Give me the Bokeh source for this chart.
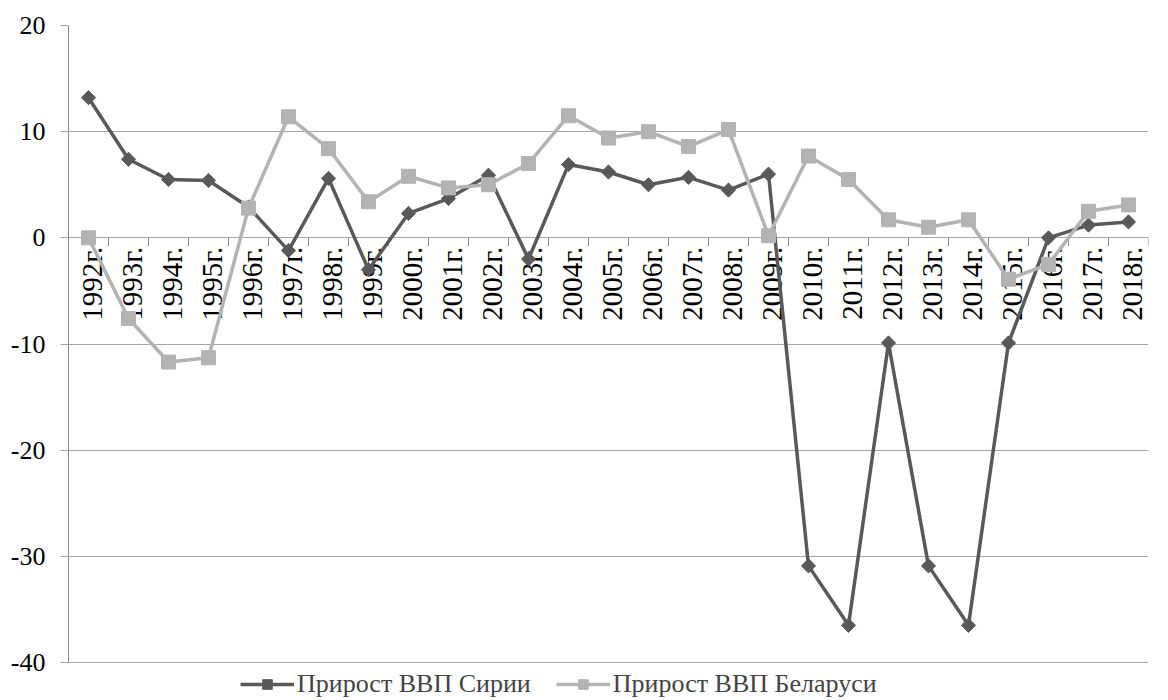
import math
from bokeh.plotting import figure
from bokeh.models import (FactorRange, Range1d, FixedTicker, Legend, LegendItem,
                          ColumnDataSource)
from bokeh.transform import dodge
from bokeh.core.properties import value
from bokeh.embed import file_html
from bokeh.resources import INLINE

years = ["1992г.", "1993г.", "1994г.", "1995г.", "1996г.", "1997г.", "1998г.",
         "1999г.", "2000г.", "2001г.", "2002г.", "2003г.", "2004г.", "2005г.",
         "2006г.", "2007г.", "2008г.", "2009г.", "2010г.", "2011г.", "2012г.",
         "2013г.", "2014г.", "2015г.", "2016г.", "2017г.", "2018г."]
syria = [13.2, 7.4, 5.5, 5.4, 2.9, -1.2, 5.6, -3.0, 2.3, 3.7, 5.9, -2.0, 6.9, 6.2,
         5.0, 5.7, 4.5, 6.0, -30.9, -36.5, -9.9, -30.9, -36.5, -9.9, 0.0, 1.2, 1.5]
belarus = [0.0, -7.6, -11.7, -11.3, 2.8, 11.4, 8.4, 3.4, 5.8, 4.7, 5.0, 7.0, 11.5,
           9.4, 10.0, 8.6, 10.2, 0.2, 7.7, 5.5, 1.7, 1.0, 1.7, -3.9, -2.5, 2.5, 3.1]
y_ticks = [-40, -30, -20, -10, 0, 10, 20]
series_names = ["Прирост ВВП Сирии", "Прирост ВВП Беларуси"]

FONT = "Liberation Serif"
C_SYR = "#595959"
C_BEL = "#b3b3b3"
GRID = "#a6a6a6"
AXIS = "#868686"

Y_MIN, Y_MAX = -40, 20
PLOT_H = 637          # pixel height of the -40..20 area
LEGEND_H = 37         # extra strip at the bottom of the frame for the legend
px_per_unit = PLOT_H / (Y_MAX - Y_MIN)

p = figure(frame_width=1080, frame_height=PLOT_H + LEGEND_H, output_backend="svg",
           toolbar_location=None,
           x_range=FactorRange(*years, range_padding=0),
           y_range=Range1d(Y_MIN - LEGEND_H / px_per_unit, Y_MAX),
           min_border_left=68, min_border_right=4, min_border_top=25,
           min_border_bottom=0)
p.outline_line_color = None
p.background_fill_color = "white"
p.xgrid.grid_line_color = None
p.ygrid.grid_line_color = GRID
p.ygrid.grid_line_width = 1
p.xaxis.visible = False

yax = p.yaxis[0]
yax.ticker = FixedTicker(ticks=y_ticks)
yax.bounds = (Y_MIN, Y_MAX)
yax.major_label_overrides = {t: str(t) for t in y_ticks}
yax.axis_line_color = AXIS
yax.major_tick_line_color = GRID
yax.major_tick_out = 8
yax.major_tick_in = 0
yax.minor_tick_line_color = None
yax.major_label_text_font = FONT
yax.major_label_text_font_size = "26px"
yax.major_label_text_color = "black"
yax.major_label_standoff = 15

src = ColumnDataSource(dict(x=years, syr=syria, bel=belarus, zero=[0] * len(years)))

# tick marks along the zero axis, between categories
p.ray(x=dodge("x", -0.5, range=p.x_range), y="zero", length=8, length_units="screen",
      angle=-math.pi / 2, line_color=AXIS, line_width=1, source=src)
p.ray(x=dodge("x", 0.5, range=p.x_range), y="zero", length=8, length_units="screen",
      angle=-math.pi / 2, line_color=AXIS, line_width=1, source=src)

# category labels at the zero line
p.text(x="x", y="zero", text="x", source=src, angle=math.pi / 2,
       text_align="right", text_baseline="middle", y_offset=9, x_offset=3,
       text_font=value(FONT), text_font_size="29px", text_color="black")

l1 = p.line(x="x", y="syr", source=src, line_color=C_SYR, line_width=3.5)
m1 = p.scatter(x="x", y="syr", source=src, marker="square", angle=math.pi / 4,
               size=10, fill_color=C_SYR, line_color=C_SYR)
l2 = p.line(x="x", y="bel", source=src, line_color=C_BEL, line_width=3.5)
m2 = p.scatter(x="x", y="bel", source=src, marker="square", size=14,
               fill_color=C_BEL, line_color=C_BEL)

legend = Legend(items=[LegendItem(label=series_names[0], renderers=[l1, m1]),
                       LegendItem(label=series_names[1], renderers=[l2, m2])],
                orientation="horizontal", location=(172, 0),
                label_text_font=FONT, label_text_font_size="26px",
                glyph_width=54, glyph_height=24, label_standoff=3, spacing=25,
                padding=0, margin=0, border_line_color=None,
                background_fill_alpha=0)
p.add_layout(legend, "center")

open("out.html", "w").write(file_html(p, INLINE))
